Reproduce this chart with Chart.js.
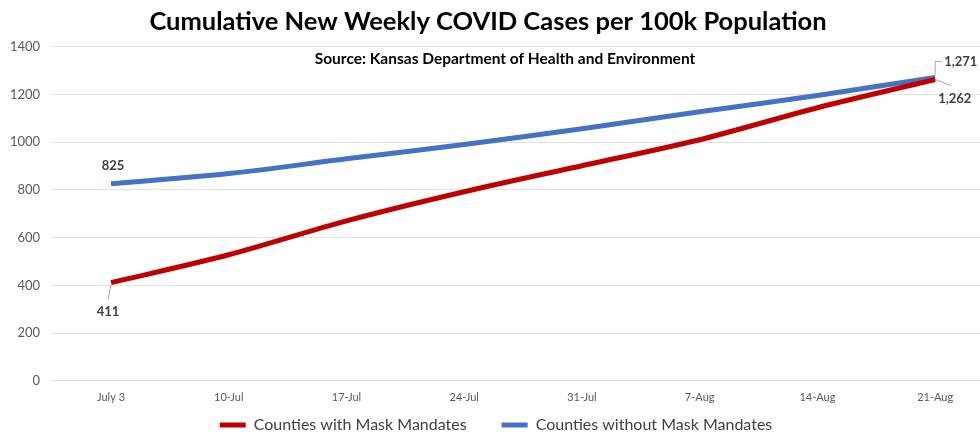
<!DOCTYPE html>
<html>
<head>
<meta charset="utf-8">
<script src="https://cdn.jsdelivr.net/npm/chart.js@4"></script>
<style>
	html, body { margin: 0; background: #fff; overflow: hidden; }
	#wrap { width: 994px; height: 434px; }
</style>
</head>
<body>
<div id="wrap"><canvas id="chart"></canvas></div>
<script>
const weeks = ['July 3', '10-Jul', '17-Jul', '24-Jul', '31-Jul', '7-Aug', '14-Aug', '21-Aug'];
const withMandates = [411, 528, 670, 792, 901, 1010, 1144, 1262];
const withoutMandates = [825, 868, 930, 990, 1056, 1127, 1195, 1271];
const yTicks = [0, 200, 400, 600, 800, 1000, 1200, 1400];

const font = 'Lato, "Open Sans", sans-serif';

// labels with small leader lines, like the excel original
const pointLabels = {
	id: 'pointLabels',
	afterDatasetsDraw(chart) {
		const ctx = chart.ctx;
		const red = chart.getDatasetMeta(0).data;
		const blue = chart.getDatasetMeta(1).data;
		const last = weeks.length - 1;
		ctx.save();
		ctx.font = 'bold 13px ' + font;
		ctx.fillStyle = '#404040';
		ctx.strokeStyle = '#a6a6a6';
		ctx.lineWidth = 1;
		ctx.textBaseline = 'middle';

		// 825 above first blue point
		ctx.textAlign = 'center';
		ctx.fillText(withoutMandates[0].toLocaleString('en-US'), blue[0].x + 2, blue[0].y - 18);

		// 411 below first red point
		let p = red[0];
		ctx.beginPath();
		ctx.moveTo(p.x, p.y + 2);
		ctx.lineTo(p.x - 3, p.y + 17);
		ctx.stroke();
		ctx.fillText(withMandates[0].toLocaleString('en-US'), p.x - 3, p.y + 29);

		// 1,271 upper right
		p = blue[last];
		ctx.beginPath();
		ctx.moveTo(p.x, p.y - 2);
		ctx.lineTo(p.x, p.y - 16);
		ctx.lineTo(p.x + 7, p.y - 16);
		ctx.stroke();
		ctx.textAlign = 'left';
		ctx.fillText(withoutMandates[last].toLocaleString('en-US'), p.x + 9, p.y - 16);

		// 1,262 lower right
		p = red[last];
		ctx.beginPath();
		ctx.moveTo(p.x, p.y);
		ctx.lineTo(p.x + 16, p.y + 6);
		ctx.stroke();
		ctx.fillText(withMandates[last].toLocaleString('en-US'), p.x + 3, p.y + 19);

		// source line inside the plot
		ctx.textAlign = 'center';
		ctx.fillStyle = '#000';
		ctx.font = 'bold 15.5px ' + font;
		ctx.fillText('Source: Kansas Department of Health and Environment', chart.width / 2 + 8, chart.chartArea.top + 12);
		ctx.restore();
	}
};

new Chart(document.getElementById('chart'), {
	type: 'line',
	data: {
		labels: weeks,
		datasets: [{
			label: 'Counties with Mask Mandates',
			data: withMandates,
			borderColor: '#c00000',
			backgroundColor: '#c00000',
			borderWidth: 5,
			pointRadius: 0,
			tension: 0.3
		}, {
			label: 'Counties without Mask Mandates',
			data: withoutMandates,
			borderColor: '#4472c4',
			backgroundColor: '#4472c4',
			borderWidth: 5,
			pointRadius: 0,
			tension: 0.3
		}]
	},
	options: {
		responsive: true,
		maintainAspectRatio: false,
		animation: false,
		layout: {
			padding: { top: 4, left: -2, right: 0, bottom: -9 }
		},
		plugins: {
			title: {
				display: true,
				text: 'Cumulative New Weekly COVID Cases per 100k Population\u2002\u2009',
				color: '#000',
				font: { family: font, size: 25.5, weight: 'bold' },
				padding: { top: 2, bottom: 10 }
			},
			legend: {
				position: 'bottom',
				labels: {
					usePointStyle: true,
					pointStyle: 'line',
					pointStyleWidth: 26,
					boxHeight: 5,
					color: '#404040',
					padding: 11,
					font: { family: font, size: 16 },
					// widen the gap after the first entry
					generateLabels(chart) {
						const items = Chart.defaults.plugins.legend.labels.generateLabels(chart);
						items[0].text += '\u2003\u2003';
						return items;
					}
				}
			},
			tooltip: { enabled: false }
		},
		scales: {
			x: {
				offset: true,
				grid: { display: false },
				border: { color: '#d9d9d9' },
				ticks: {
					color: '#595959',
					font: { family: font, size: 11 },
					padding: 2
				}
			},
			y: {
				min: 0,
				max: 1400,
				afterBuildTicks(axis) {
					axis.ticks = yTicks.map(v => ({ value: v }));
				},
				grid: { color: '#e0e0e0', drawTicks: false },
				border: { display: false },
				ticks: {
					color: '#595959',
					font: { family: font, size: 13 },
					padding: 12,
					callback: v => String(v)
				}
			}
		}
	},
	plugins: [pointLabels]
});
</script>
</body>
</html>
